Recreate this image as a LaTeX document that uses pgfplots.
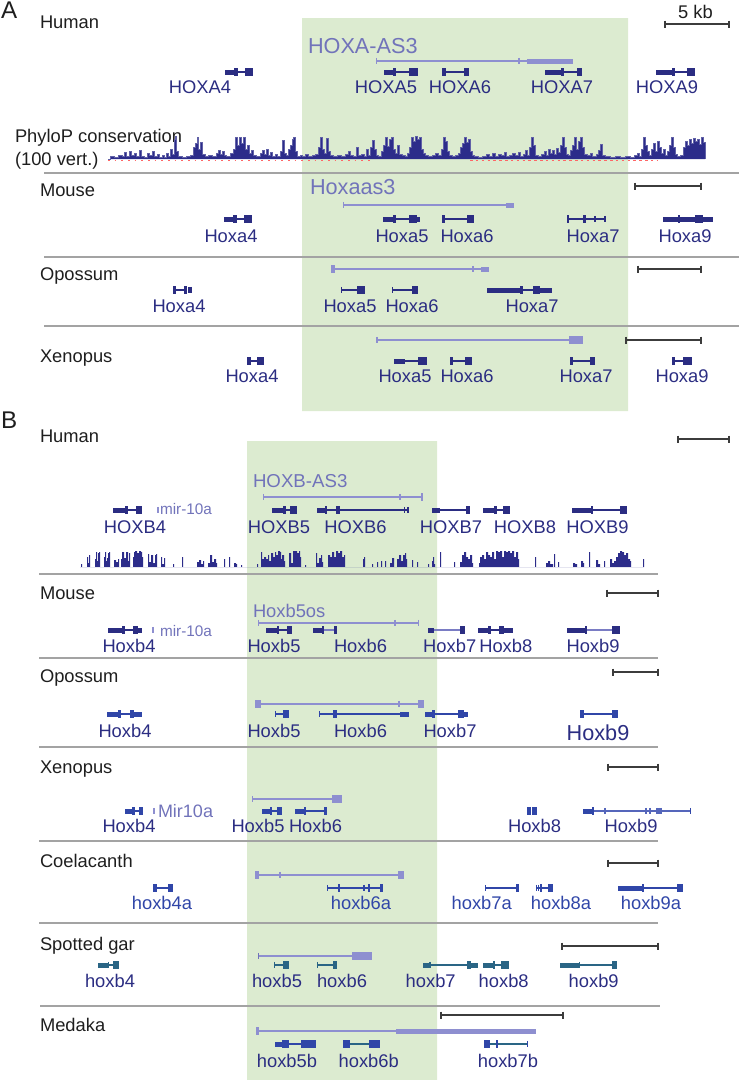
\documentclass[border=0pt]{standalone}
\usepackage{pgfplots}
\pgfplotsset{compat=1.18}
\usepackage{fontspec}
\setmainfont{Liberation Sans}
\definecolor{navy}{HTML}{2B2D82}
\definecolor{lavline}{HTML}{8E8FD0}
\definecolor{lavtext}{HTML}{7173BA}
\definecolor{navyl}{HTML}{7A7CC4}
\definecolor{blue2}{HTML}{3046A8}
\definecolor{blue2l}{HTML}{5566BB}
\definecolor{teal2}{HTML}{2A6585}
\definecolor{greenhl}{HTML}{DCEBD0}
\definecolor{sepc}{HTML}{A3A3A3}
\definecolor{sbc}{HTML}{3C3C3C}
\definecolor{phylo}{HTML}{2C2C8A}
\definecolor{spc}{HTML}{1E1E1E}
\newcommand{\intron}[4]{\addplot[draw=#4, line width=0.7pt] coordinates {(#1,#3) (#2,#3)};}
\newcommand{\utr}[4]{\addplot[draw=#4, line width=3pt] coordinates {(#1,#3) (#2,#3)};}
\newcommand{\exon}[4]{\addplot[draw=#4, line width=4.6pt] coordinates {(#1,#3) (#2,#3)};}
\newcommand{\tk}[3]{\addplot[draw=#3, only marks, mark=|, mark size=1.9pt, mark options={line width=0.7pt}] coordinates {(#1,#2)};}
\newcommand{\sbar}[3]{\addplot[draw=sbc, line width=0.7pt, mark=|, mark size=2.1pt, mark options={line width=0.7pt}] coordinates {(#1,#3) (#2,#3)};}
\newcommand{\sep}[3]{\addplot[draw=sepc, line width=0.9pt] coordinates {(#1,#3) (#2,#3)};}
\newcommand{\species}[3]{\node[anchor=base west, text=spc, font=\fontsize{11}{13}\selectfont] at (axis cs:#1,#2) {#3};}
\newcommand{\glab}[4]{\node[anchor=base, text=#4, font=\fontsize{11}{13}\selectfont] at (axis cs:#1,#2) {#3};}
\begin{document}
\begin{tikzpicture}[every node/.style={inner sep=0pt, outer sep=0pt}]
\begin{axis}[
  scale only axis, width=443.4pt, height=648pt,
  xmin=0, xmax=739, ymin=0, ymax=1080, y dir=reverse,
  hide axis, clip=false,
]
\addplot[draw=none] coordinates {(0,0) (739,1080)};
% green highlights
\addplot[fill=greenhl, draw=none] coordinates {(302,18) (628,18) (628,411) (302,411) (302,18)};
\addplot[fill=greenhl, draw=none] coordinates {(247,441) (437,441) (437,1080) (247,1080) (247,441)};

% ---------------- Panel A ----------------
\node[anchor=base west, text=spc, font=\fontsize{14.5}{16}\selectfont] at (axis cs:1,18) {A};
\species{40}{28}{Human}
\node[anchor=base, text=spc, font=\fontsize{11}{13}\selectfont] at (axis cs:695.5,18) {5 kb};
\sbar{665}{729}{24}
% HOXA-AS3
\node[anchor=base west, text=lavtext, font=\fontsize{13}{15}\selectfont] at (axis cs:308,53) {HOXA-AS3};
\intron{376}{527}{61}{lavline} \tk{376.5}{61}{lavline} \tk{519}{61}{lavline}
\utr{527}{573}{61}{lavline}
% human genes y=72
\utr{225}{234}{72}{navy} \exon{234}{238}{72}{navy} \intron{238}{245}{72}{navy} \exon{245}{253}{72}{navy}
\utr{384}{393}{72}{navy} \exon{393}{396}{72}{navy} \intron{396}{409}{72}{navy} \exon{409}{418}{72}{navy}
\exon{442}{446}{72}{navy} \intron{446}{464}{72}{navy} \exon{464}{469}{72}{navy}
\utr{545}{561}{72}{navy} \exon{561}{564}{72}{navy} \intron{564}{577}{72}{navy} \exon{577}{582}{72}{navy}
\utr{656}{672}{72}{navy} \exon{672}{675}{72}{navy} \intron{675}{687}{72}{navy} \exon{687}{695}{72}{navy}
\glab{200}{93}{HOXA4}{navy} \glab{386}{93}{HOXA5}{navy} \glab{460}{93}{HOXA6}{navy}
\glab{562}{93}{HOXA7}{navy} \glab{667}{93}{HOXA9}{navy}
% PhyloP
\node[anchor=base west, text=spc, font=\fontsize{11}{13}\selectfont] at (axis cs:15,142) {PhyloP conservation};
\node[anchor=base west, text=spc, font=\fontsize{11}{13}\selectfont] at (axis cs:15,165) {(100 vert.)};
\addplot[draw=red!60, line width=0.35pt, dash pattern=on 1pt off 3pt] coordinates {(108,160.3) (370,160.3)};
\addplot[draw=red!60, line width=0.35pt, dash pattern=on 1.5pt off 2pt] coordinates {(470,160.3) (657,160.3)};
\addplot[const plot, fill=phylo, draw=phylo!75!white, line width=0.2pt] coordinates {
(108,159) (110,156) (114,157) (118,155) (122,156) (124,152) (126,156) (129,151) (131,155) (134,153) (136,156) (139,150) (141,156) (144,157) (147,153) (149,155) (152,151) (154,156) (157,154) (159,157) (162,155) (164,157) (166,153) (168,156) (170,149) (172,154) (174,139) (175,136) (176,151) (178,156) (182,157) (186,156) (190,155) (193,147) (195,143) (197,137) (198,149) (200,142) (202,154) (205,156) (208,155) (212,156) (216,153) (218,150) (220,154) (222,151) (224,155) (226,156) (230,153) (233,149) (235,137) (237,145) (239,137) (241,143) (243,137) (245,149) (247,145) (249,153) (251,150) (253,155) (256,156) (260,153) (262,150) (264,154) (266,149) (268,155) (270,152) (272,156) (275,154) (277,156) (280,151) (282,140) (284,153) (286,155) (288,149) (290,145) (292,139) (293,137) (295,151) (297,156) (300,155) (302,156) (305,154) (308,156) (312,155) (315,154) (318,147) (320,137) (322,149) (324,153) (326,138) (328,151) (330,155) (333,156) (337,155) (341,156) (345,154) (348,151) (350,155) (353,156) (356,147) (358,155) (361,154) (364,156) (366,149) (368,155) (370,147) (372,140) (374,149) (376,155) (378,156) (381,151) (383,145) (385,137) (387,146) (389,139) (391,137) (393,149) (395,153) (397,145) (399,154) (402,155) (405,156) (407,153) (409,147) (411,137) (413,141) (415,136) (417,139) (419,137) (421,149) (423,153) (425,155) (428,156) (432,155) (435,153) (438,155) (441,149) (443,137) (445,141) (447,151) (449,155) (452,156) (455,155) (458,153) (460,147) (462,143) (464,137) (466,142) (468,139) (470,151) (472,155) (474,156) (478,157) (482,156) (486,154) (489,156) (492,153) (495,156) (498,154) (501,155) (504,152) (506,156) (509,155) (512,153) (515,155) (518,152) (520,156) (523,154) (525,150) (527,155) (529,147) (531,137) (533,145) (535,155) (538,156) (541,154) (544,151) (546,155) (548,149) (550,153) (552,150) (554,154) (556,148) (558,152) (560,145) (562,137) (564,147) (566,154) (568,155) (570,150) (572,145) (574,137) (576,149) (578,141) (580,137) (582,147) (584,154) (587,155) (590,153) (592,156) (596,154) (598,150) (600,144) (602,155) (605,156) (610,157) (615,156) (620,157) (625,156) (630,157) (634,155) (637,153) (639,156) (641,149) (643,137) (645,145) (647,151) (649,155) (651,149) (653,143) (655,151) (657,141) (659,147) (661,153) (663,149) (665,155) (667,151) (669,145) (671,137) (673,147) (675,154) (677,156) (680,155) (683,147) (685,141) (687,145) (689,139) (691,143) (693,138) (695,141) (697,139) (699,144) (701,137) (703,142) (705,159)};
% separators A
\sep{44}{739}{173} \sep{44}{739}{257} \sep{44}{739}{326}
% Mouse A
\species{40}{196}{Mouse}
\node[anchor=base west, text=lavtext, font=\fontsize{13}{15}\selectfont] at (axis cs:310,194) {Hoxaas3};
\intron{343}{506}{205}{lavline} \tk{343.5}{205}{lavline} \utr{506}{514}{205}{lavline}
\sbar{635}{701}{186}
\utr{224}{233}{219}{navy} \exon{233}{237}{219}{navy} \intron{237}{244}{219}{navy} \exon{244}{252}{219}{navy}
\utr{383}{393}{219}{navy} \exon{393}{396}{219}{navy} \intron{396}{409}{219}{navy} \exon{409}{417}{219}{navy} \utr{417}{420}{219}{navy}
\exon{442}{445}{219}{navy} \intron{445}{467}{219}{navy} \exon{467}{474}{219}{navy}
\exon{567}{569}{219}{navy} \intron{569}{605}{219}{navy} \exon{583}{586}{219}{navy} \tk{595}{219}{navy} \tk{605}{219}{navy}
\utr{663}{678}{219}{navy} \exon{678}{680}{219}{navy} \utr{680}{695}{219}{navy} \exon{695}{703}{219}{navy} \utr{703}{713}{219}{navy}
\glab{231}{242}{Hoxa4}{navy} \glab{402}{242}{Hoxa5}{navy} \glab{467}{242}{Hoxa6}{navy}
\glab{593}{242}{Hoxa7}{navy} \glab{685}{242}{Hoxa9}{navy}
% Opossum A
\species{40}{280}{Opossum}
\intron{332}{481}{269}{lavline} \exon{331}{335}{269}{lavline} \tk{473}{269}{lavline} \utr{481}{489}{269}{lavline}
\sbar{638}{701}{269}
\exon{173}{176}{290}{navy} \intron{176}{184}{290}{navy} \exon{184}{187}{290}{navy} \tk{189}{290}{navy} \tk{191}{290}{navy}
\tk{341.5}{290}{navy} \intron{341}{357}{290}{navy} \exon{357}{365}{290}{navy}
\tk{392.5}{290}{navy} \intron{392}{412}{290}{navy} \exon{412}{418}{290}{navy}
\utr{487}{520}{290}{navy} \exon{520}{523}{290}{navy} \intron{523}{533}{290}{navy} \exon{533}{540}{290}{navy} \utr{540}{552}{290}{navy}
\glab{179}{312}{Hoxa4}{navy} \glab{350}{312}{Hoxa5}{navy} \glab{412}{312}{Hoxa6}{navy} \glab{532}{312}{Hoxa7}{navy}
% Xenopus A
\species{40}{362}{Xenopus}
\intron{377}{569}{340}{lavline} \tk{377}{340}{lavline} \exon{569}{583}{340}{lavline}
\sbar{626}{701}{340}
\exon{247}{251}{361}{navy} \intron{251}{257}{361}{navy} \exon{257}{264}{361}{navy}
\utr{394}{405}{361}{navy} \intron{405}{418}{361}{navy} \exon{418}{427}{361}{navy}
\exon{450}{453}{361}{navy} \intron{453}{465}{361}{navy} \exon{465}{472}{361}{navy}
\exon{570}{573}{361}{navy} \intron{573}{590}{361}{navy} \exon{590}{595}{361}{navy}
\exon{672}{675}{361}{navy} \intron{675}{683}{361}{navy} \exon{683}{692}{361}{navy}
\glab{252}{382}{Hoxa4}{navy} \glab{405}{382}{Hoxa5}{navy} \glab{467}{382}{Hoxa6}{navy}
\glab{586}{382}{Hoxa7}{navy} \glab{682}{382}{Hoxa9}{navy}

% ---------------- Panel B ----------------
\node[anchor=base west, text=spc, font=\fontsize{14.5}{16}\selectfont] at (axis cs:1,428) {B};
\species{40}{442}{Human}
\sbar{678}{729}{439}
\node[anchor=base west, text=lavtext, font=\fontsize{11.2}{13}\selectfont] at (axis cs:253,487) {HOXB-AS3};
\intron{263}{423}{497}{lavline} \tk{263.5}{497}{lavline} \tk{400}{497}{lavline} \exon{421}{423}{497}{lavline}
\tk{158}{510}{lavline}
\node[anchor=base west, text=lavtext, font=\fontsize{9.2}{11}\selectfont] at (axis cs:160,514) {mir-10a};
\utr{113}{125}{510}{navy} \exon{125}{128}{510}{navy} \intron{128}{136}{510}{navy} \exon{136}{142}{510}{navy}
\utr{272}{283}{510}{navy} \exon{283}{286}{510}{navy} \intron{286}{290}{510}{navy} \exon{290}{297}{510}{navy}
\utr{317}{325}{510}{navy} \exon{325}{327}{510}{navy} \intron{327}{336}{510}{navy} \exon{336}{340}{510}{navy} \intron{340}{408}{510}{navy} \tk{404.5}{510}{navy} \tk{408}{510}{navy}
\utr{432}{440}{510}{navy} \intron{440}{466}{510}{navy} \exon{466}{470}{510}{navy}
\utr{483}{494}{510}{navy} \exon{494}{497}{510}{navy} \intron{497}{503}{510}{navy} \exon{503}{510}{510}{navy}
\utr{572}{591}{510}{navy} \exon{591}{593}{510}{navy} \intron{593}{620}{510}{navy} \exon{620}{627}{510}{navy}
\glab{135}{533}{HOXB4}{navy} \glab{279}{533}{HOXB5}{navy} \glab{355.5}{533}{HOXB6}{navy}
\glab{451}{533}{HOXB7}{navy} \glab{525}{533}{HOXB8}{navy} \glab{597.5}{533}{HOXB9}{navy}
% PhyloP B
\addplot[const plot, fill=phylo, draw=none] coordinates {
(80,567) (81,564) (82,567) (86,567) (87,557) (88,563) (89,555) (90,567) (94,567) (95,559) (96,552) (97,561) (98,553) (99,552) (100,567) (103,567) (104,557) (105,552) (106,561) (107,558) (108,553) (109,552) (110,567) (113,567) (114,560) (116,562) (118,559) (119,567) (120,567) (121,559) (122,552) (124,558) (126,552) (128,561) (129,553) (130,567) (132,567) (133,557) (134,552) (135,551) (137,553) (139,551) (141,552) (142,557) (143,567) (147,567) (148,554) (149,562) (151,555) (153,563) (155,555) (156,554) (157,567) (160,567) (161,557) (162,564) (164,558) (165,567) (172,567) (173,564) (174,567) (181,567) (182,557) (183,567) (196,567) (197,562) (199,560) (201,564) (203,561) (204,567) (207,567) (208,563) (210,555) (212,562) (214,559) (216,563) (217,567) (223,567) (224,559) (225,567) (228,567) (229,557) (230,567) (233,567) (234,563) (236,564) (237,567) (240,567) (241,565) (242,567) (256,567) (257,564) (258,567) (260,567) (261,552) (262,559) (264,557) (266,559) (268,555) (269,561) (271,553) (273,557) (275,552) (276,555) (278,551) (280,552) (281,559) (282,555) (284,561) (285,567) (288,567) (289,553) (291,563) (293,551) (295,551) (297,553) (299,551) (300,557) (301,567) (304,567) (305,565) (306,567) (315,567) (316,553) (317,563) (319,558) (321,555) (322,562) (323,567) (327,567) (328,555) (330,557) (332,552) (334,557) (336,551) (338,553) (340,551) (342,557) (344,555) (345,567) (362,567) (363,559) (364,557) (365,567) (371,567) (372,564) (373,567) (376,567) (377,562) (378,567) (380,567) (381,561) (382,567) (384,567) (385,561) (386,567) (389,567) (390,563) (392,558) (394,567) (396,567) (397,559) (399,555) (401,561) (403,555) (405,553) (406,559) (407,567) (411,567) (412,560) (413,567) (416,567) (417,562) (418,567) (427,567) (428,564) (429,567) (431,567) (432,561) (433,557) (434,564) (435,567) (439,567) (440,552) (441,567) (453,567) (454,562) (455,567) (459,567) (460,562) (462,555) (464,552) (466,557) (468,559) (470,555) (472,563) (473,567) (478,567) (479,563) (480,557) (482,555) (484,559) (486,552) (488,555) (490,557) (492,552) (494,559) (496,551) (498,552) (500,551) (502,557) (504,551) (506,552) (508,551) (510,553) (512,551) (514,557) (516,552) (518,559) (519,567) (534,567) (535,557) (536,567) (545,567) (546,563) (548,561) (550,564) (553,567) (554,554) (555,567) (557,567) (558,562) (559,567) (572,567) (573,563) (575,564) (577,567) (580,567) (581,561) (583,563) (584,567) (588,567) (589,552) (590,567) (595,567) (596,560) (598,564) (600,567) (603,567) (604,561) (605,567) (609,567) (610,559) (612,563) (614,561) (616,557) (618,553) (620,551) (622,552) (624,555) (626,553) (628,559) (630,561) (631,567) (642,567) (643,559) (644,567)};
% separators B
\sep{39}{658}{574} \sep{39}{658}{658} \sep{39}{658}{747} \sep{39}{658}{841} \sep{39}{658}{923} \sep{40}{660}{1006}
% Mouse B
\species{40}{599}{Mouse}
\sbar{607}{658}{593}
\node[anchor=base west, text=lavtext, font=\fontsize{11}{13}\selectfont] at (axis cs:253,617) {Hoxb5os};
\intron{258}{419}{623}{lavline} \tk{258.5}{623}{lavline} \tk{395}{623}{lavline} \tk{418.5}{623}{lavline}
\tk{153}{630}{lavline}
\node[anchor=base west, text=lavtext, font=\fontsize{9.2}{11}\selectfont] at (axis cs:160,636) {mir-10a};
\utr{108}{122}{630}{navy} \exon{122}{125}{630}{navy} \intron{125}{133}{630}{navy} \exon{133}{138}{630}{navy} \utr{138}{142}{630}{navy}
\utr{266}{277}{630}{navy} \exon{277}{279}{630}{navy} \intron{279}{287}{630}{navy} \exon{287}{292}{630}{navy}
\utr{313}{322}{630}{navy} \exon{322}{324}{630}{navy} \intron{324}{334}{630}{navyl} \exon{334}{337}{630}{navy}
\utr{428}{434}{630}{navy} \intron{434}{460}{630}{navyl} \exon{460}{465}{630}{navy}
\utr{478}{488}{630}{navy} \exon{488}{491}{630}{navy} \intron{491}{499}{630}{navy} \exon{499}{504}{630}{navy} \utr{504}{513}{630}{navy}
\utr{567}{585}{630}{navy} \exon{585}{587}{630}{navy} \intron{587}{612}{630}{navyl} \exon{612}{620}{630}{navy}
\glab{129}{652}{Hoxb4}{navy} \glab{274}{652}{Hoxb5}{navy} \glab{360.5}{652}{Hoxb6}{navy}
\glab{449.7}{652}{Hoxb7}{navy} \glab{505.8}{652}{Hoxb8}{navy} \glab{593}{652}{Hoxb9}{navy}
% Opossum B
\species{40}{682}{Opossum}
\sbar{613}{658}{672}
\intron{261}{418}{704}{lavline} \exon{255}{261}{704}{lavline} \tk{399}{704}{lavline} \exon{418}{424}{704}{lavline}
\utr{107}{118}{714}{blue2} \exon{118}{121}{714}{blue2} \intron{121}{130}{714}{blue2} \exon{130}{134}{714}{blue2} \utr{134}{142}{714}{blue2}
\tk{275.5}{714}{blue2} \intron{275}{283}{714}{blue2} \exon{283}{289}{714}{blue2}
\tk{319.5}{714}{blue2} \intron{319}{333}{714}{blue2} \exon{333}{337}{714}{blue2} \intron{337}{400}{714}{blue2} \utr{400}{409}{714}{blue2}
\utr{425}{432}{714}{blue2} \exon{432}{435}{714}{blue2} \intron{435}{458}{714}{blue2} \exon{458}{464}{714}{blue2} \utr{464}{468}{714}{blue2}
\exon{580}{584}{714}{blue2} \intron{584}{612}{714}{blue2} \exon{612}{618}{714}{blue2}
\glab{125}{737}{Hoxb4}{navy} \glab{274}{737}{Hoxb5}{navy} \glab{360.5}{737}{Hoxb6}{navy} \glab{450}{737}{Hoxb7}{navy}
\node[anchor=base, text=navy, font=\fontsize{13}{15}\selectfont] at (axis cs:598,740) {Hoxb9};
% Xenopus B
\species{40}{773}{Xenopus}
\sbar{608}{658}{767}
\intron{252}{332}{799}{lavline} \tk{252.5}{799}{lavline} \exon{332}{342}{799}{lavline}
\tk{154}{811}{lavline}
\node[anchor=base west, text=lavtext, font=\fontsize{10.8}{13}\selectfont] at (axis cs:158,817) {Mir10a};
\utr{125}{132}{811}{blue2} \exon{132}{135}{811}{blue2} \intron{135}{139}{811}{blue2} \exon{139}{143}{811}{blue2}
\utr{262}{270}{811}{blue2} \exon{270}{272}{811}{blue2} \intron{272}{277}{811}{blue2} \exon{277}{282}{811}{blue2}
\utr{295}{304}{811}{blue2} \exon{304}{306}{811}{blue2} \intron{306}{324}{811}{blue2} \exon{324}{327}{811}{blue2}
\exon{527}{531}{811}{blue2} \exon{532}{537}{811}{blue2}
\utr{583}{592}{811}{blue2} \exon{592}{594}{811}{blue2} \intron{594}{691}{811}{blue2l}
\tk{605}{811}{blue2l} \tk{646}{811}{blue2l} \tk{650}{811}{blue2l} \tk{657}{811}{blue2l} \tk{659}{811}{blue2l} \tk{661}{811}{blue2l} \tk{690.5}{811}{blue2}
\glab{129}{832}{Hoxb4}{navy} \glab{258}{832}{Hoxb5}{navy} \glab{315.5}{832}{Hoxb6}{navy}
\glab{534.5}{832}{Hoxb8}{navy} \glab{631}{832}{Hoxb9}{navy}
% Coelacanth
\species{40}{867}{Coelacanth}
\sbar{608}{658}{863}
\intron{259}{398}{875}{lavline} \exon{255}{259}{875}{lavline} \tk{280}{875}{lavline} \exon{398}{404}{875}{lavline}
\exon{153}{157}{888}{blue2} \intron{157}{168}{888}{blue2} \exon{168}{173}{888}{blue2}
\intron{327}{383}{888}{blue2} \tk{327.5}{888}{blue2} \exon{338}{340}{888}{blue2} \tk{364}{888}{blue2} \exon{368}{370}{888}{blue2} \exon{380}{383}{888}{blue2}
\intron{485}{516}{888}{blue2} \tk{485.5}{888}{blue2} \exon{516}{519}{888}{blue2}
\intron{536}{548}{888}{blue2} \tk{536.5}{888}{blue2} \tk{538.5}{888}{blue2} \exon{540}{542}{888}{blue2} \exon{548}{553}{888}{blue2}
\utr{618}{643}{888}{blue2} \exon{642}{644}{888}{blue2} \intron{644}{677}{888}{blue2} \exon{677}{683}{888}{blue2}
\glab{162}{909}{hoxb4a}{blue2} \glab{361}{909}{hoxb6a}{blue2} \glab{481.7}{909}{hoxb7a}{blue2}
\glab{561}{909}{hoxb8a}{blue2} \glab{651}{909}{hoxb9a}{blue2}
% Spotted gar
\species{40}{950}{Spotted gar}
\sbar{562}{658}{946}
\intron{258}{352}{956}{lavline} \tk{258.5}{956}{lavtext} \exon{352}{372}{956}{lavline}
\utr{98}{108}{965}{teal2} \tk{108.5}{965}{teal2} \intron{108}{113}{965}{teal2} \exon{113}{119}{965}{teal2}
\tk{274.5}{965}{teal2} \intron{274}{283}{965}{teal2} \exon{283}{289}{965}{teal2}
\tk{317.5}{965}{teal2} \intron{317}{333}{965}{teal2} \exon{333}{337}{965}{teal2}
\utr{423}{430}{965}{teal2} \tk{430}{965}{teal2} \intron{430}{467}{965}{teal2} \exon{467}{471}{965}{teal2} \utr{471}{478}{965}{teal2}
\utr{483}{493}{965}{teal2} \exon{493}{495}{965}{teal2} \intron{495}{501}{965}{teal2} \exon{501}{509}{965}{teal2}
\utr{560}{579}{965}{teal2} \tk{579.5}{965}{teal2} \intron{580}{612}{965}{teal2} \exon{612}{617}{965}{teal2}
\glab{110}{987}{hoxb4}{navy} \glab{277}{987}{hoxb5}{navy} \glab{342}{987}{hoxb6}{navy}
\glab{430.7}{987}{hoxb7}{navy} \glab{503.7}{987}{hoxb8}{navy} \glab{593.7}{987}{hoxb9}{navy}
% Medaka
\species{40}{1031}{Medaka}
\sbar{441}{563}{1015}
\intron{259}{396}{1031}{lavline} \exon{256}{259}{1031}{lavline} \utr{396}{536}{1031}{lavline}
\utr{275}{282}{1044}{blue2} \exon{282}{289}{1044}{blue2} \intron{289}{301}{1044}{blue2} \exon{301}{316}{1044}{blue2}
\exon{343}{350}{1044}{blue2} \intron{350}{369}{1044}{teal2} \exon{369}{380}{1044}{blue2}
\exon{484}{490}{1044}{blue2} \intron{490}{528}{1044}{teal2} \exon{496}{498}{1044}{blue2} \tk{527.5}{1044}{blue2}
\glab{287}{1067}{hoxb5b}{navy} \glab{368.7}{1067}{hoxb6b}{navy} \glab{508}{1067}{hoxb7b}{navy}
\end{axis}
\end{tikzpicture}
\end{document}
